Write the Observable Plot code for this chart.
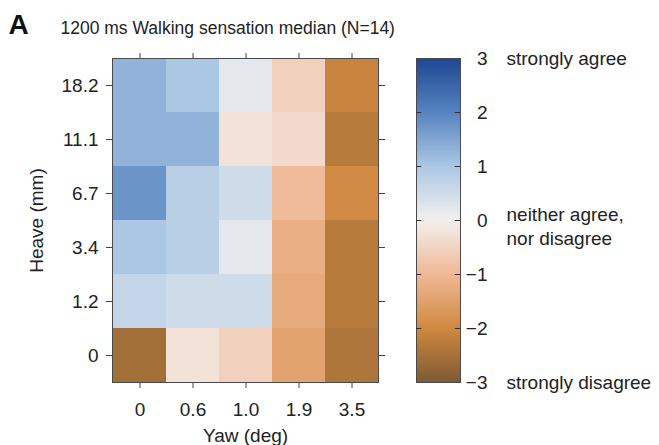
<!DOCTYPE html>
<html><head><meta charset="utf-8">
<script src="https://cdn.jsdelivr.net/npm/d3@7"></script>
<script src="https://cdn.jsdelivr.net/npm/@observablehq/plot@0.6"></script>
<style>
body{margin:0;background:#fff;}
#wrap{position:relative;width:659px;height:445px;overflow:hidden;}
#wrap svg{position:absolute;left:0;top:0;}
</style></head><body><div id="wrap"></div>
<script>
const panelLetter = "A";
const chartTitle = "1200 ms Walking sensation median (N=14)";
const yaw = ["0", "0.6", "1.0", "1.9", "3.5"];
const heave = ["18.2", "11.1", "6.7", "3.4", "1.2", "0"];
// medians by heave row (top to bottom) and yaw column (left to right)
const row18_2 = [1.3, 1.0, 0.2, -0.55, -2.1];
const row11_1 = [1.3, 1.3, -0.25, -0.4, -2.3];
const row6_7 = [1.75, 0.8, 0.5, -0.95, -1.95];
const row3_4 = [1.0, 0.8, 0.2, -1.2, -2.3];
const row1_2 = [0.65, 0.5, 0.5, -1.3, -2.3];
const row0 = [-2.55, -0.25, -0.55, -1.45, -2.4];
const colorTicks = [-3, -2, -1, 0, 1, 2, 3];
const colorStops = ["#7e5a33", "#d08940", "#f0b896", "#f2f0ee", "#aac7e4", "#5683c0", "#1d4793"];
const topLabel = "strongly agree";
const midLabel = "neither agree,\nnor disagree";
const bottomLabel = "strongly disagree";

const rows = [row18_2, row11_1, row6_7, row3_4, row1_2, row0];
const table = heave.flatMap((h, i) => yaw.map((w, j) => ({yaw: w, heave: h, value: rows[i][j]})));
const color = {type: "linear", domain: colorTicks, range: colorStops, interpolate: "rgb"};
const font = "'Liberation Sans', Arial, Helvetica, sans-serif";
const style = {fontFamily: font, fontSize: "19px", color: "#222", background: "transparent", overflow: "visible"};

const main = Plot.plot({
  width: 659, height: 445,
  marginLeft: 112, marginRight: 281, marginTop: 58, marginBottom: 63,
  style,
  x: {type: "band", domain: yaw, padding: 0},
  y: {type: "band", domain: heave, padding: 0},
  color,
  marks: [
    Plot.cell(table, {x: "yaw", y: "heave", fill: "value", inset: 0}),
    Plot.frame({stroke: "#4a4a4a"}),
    Plot.axisX({anchor: "bottom", tickSize: 6, tickPadding: 14, label: "Yaw (deg)", labelAnchor: "center", labelOffset: 59, stroke: "#444"}),
    Plot.axisX({anchor: "top", tickSize: 6, tickFormat: () => "", label: null, stroke: "#444"}),
    Plot.axisY({anchor: "left", tickSize: 6, tickPadding: 8, label: "Heave (mm)", labelAnchor: "center", labelOffset: 83, stroke: "#444"}),
    Plot.axisY({anchor: "right", tickSize: 6, tickFormat: () => "", label: null, stroke: "#444"}),
    Plot.text([panelLetter], {text: d => d, frameAnchor: "top-left", dx: -104, dy: -25, lineAnchor: "bottom", textAnchor: "start", fontSize: 28, fontWeight: "bold", fill: "#111"}),
    Plot.text([chartTitle], {text: d => d, frameAnchor: "top-left", dx: -52, dy: -24.5, lineAnchor: "bottom", textAnchor: "start", fontSize: 17.5, fill: "#222"})
  ]
});

const step = 6 / 324;
const bands = d3.range(-3, 3, step);
const cb = Plot.plot({
  width: 659, height: 445,
  marginLeft: 416, marginRight: 199, marginTop: 58, marginBottom: 63,
  style,
  x: {domain: [0, 1], axis: null},
  y: {domain: [-3, 3], axis: null},
  color,
  marks: [
    Plot.rect(bands, {x1: 0, x2: 1, y1: d => d, y2: d => Math.min(3, d + step * 1.05), fill: d => d + step / 2, shapeRendering: "crispEdges"}),
    Plot.frame({stroke: "#4a4a4a"}),
    Plot.ruleY(colorTicks.slice(1, -1), {y: d => d, x1: 0, x2: 0.12, stroke: "#333"}),
    Plot.ruleY(colorTicks.slice(1, -1), {y: d => d, x1: 0.88, x2: 1, stroke: "#333"}),
    Plot.text(colorTicks, {x: 1, y: d => d, text: d => d < 0 ? "\u2212" + (-d) : String(d), textAnchor: "end", dx: 27}),
    Plot.text([topLabel], {text: d => d, x: 1, y: () => 3, textAnchor: "start", dx: 46}),
    Plot.text([bottomLabel], {text: d => d, x: 1, y: () => -3, textAnchor: "start", dx: 46}),
    Plot.text([midLabel], {text: d => d, x: 1, y: () => 0, textAnchor: "start", lineAnchor: "top", lineHeight: 1.22, dx: 46, dy: -15.5})
  ]
});

document.getElementById("wrap").append(main, cb);
</script></body></html>
